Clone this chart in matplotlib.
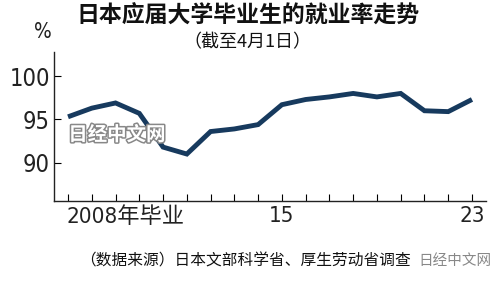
import matplotlib
matplotlib.use("Agg")
import matplotlib.pyplot as plt
import matplotlib.patheffects as pe
from matplotlib.transforms import ScaledTranslation

years = list(range(2006, 2024))
rates = [95.3, 96.3, 96.9, 95.7, 91.8, 91.0, 93.6, 93.9, 94.4, 96.7,
         97.3, 97.6, 98.0, 97.6, 98.0, 96.0, 95.9, 97.3]
xtick_years = [2008, 2015, 2023]
xtick_labels = ["2008年毕业", "15", "23"]
ytick_vals = [90, 95, 100]

title = "日本应届大学毕业生的就业率走势"
subtitle = "（截至4月1日）"
source = "（数据来源）日本文部科学省、厚生劳动省调查"
brand = "日经中文网"

cjk = ["Noto Sans CJK SC", "DejaVu Sans"]
num = ["DejaVu Sans", "Noto Sans CJK SC"]

fig = plt.figure(figsize=(5.0, 2.82), dpi=100)
fig.patch.set_facecolor("white")
ax = fig.add_axes([0.108, 0.288, 0.864, 0.528])

ax.plot(years, rates, color="#173a5e", lw=3.5, solid_joinstyle="miter",
        solid_capstyle="butt", zorder=3)

ax.set_xlim(2005.41, 2023.59)
ax.set_ylim(85.6, 102.8)

for s in ["top", "right"]:
    ax.spines[s].set_visible(False)
for s in ["left", "bottom"]:
    ax.spines[s].set_linewidth(1.0)
    ax.spines[s].set_color("#222222")

ax.set_yticks(ytick_vals)
ax.set_yticklabels([str(v) for v in ytick_vals], fontfamily=num, fontsize=17,
                   fontstretch="condensed", color="#222222")
ax.tick_params(axis="y", direction="in", length=5, width=0.8, pad=3)

ax.set_xticks(years, minor=True)
ax.set_xticks(xtick_years)
ax.set_xticklabels(xtick_labels, fontfamily=num, fontsize=16,
                   fontstretch="condensed", color="#222222")
ax.tick_params(axis="x", which="both", direction="in", length=5, width=0.8, pad=4)
lbl = ax.get_xticklabels()[0]
lbl.set_transform(lbl.get_transform() + ScaledTranslation(10/100, 0, fig.dpi_scale_trans))

fig.text(0.496, 0.944, title, ha="center", va="center", fontfamily=cjk,
         fontsize=16.5, fontweight="bold", color="#111111")
fig.text(0.494, 0.851, subtitle, ha="center", va="center", fontfamily=cjk,
         fontsize=13, color="#111111")
fig.text(0.085, 0.885, "%", ha="center", va="center", fontfamily=num,
         fontstretch="condensed", fontsize=15, color="#222222")
fig.text(0.16, 0.074, source, ha="left", va="center", fontfamily=cjk,
         fontsize=11.3, color="#111111")

# watermarks
fig.text(0.234, 0.521, brand, ha="center", va="center", fontfamily=cjk,
         fontsize=14, fontweight="bold", color="white",
         path_effects=[pe.withStroke(linewidth=2.2, foreground="#888888")], zorder=5)
fig.text(0.91, 0.074, brand, ha="center", va="center", fontfamily=cjk,
         fontsize=10.5, color="#888888")

fig.savefig("out.png", dpi=100, facecolor="white")
